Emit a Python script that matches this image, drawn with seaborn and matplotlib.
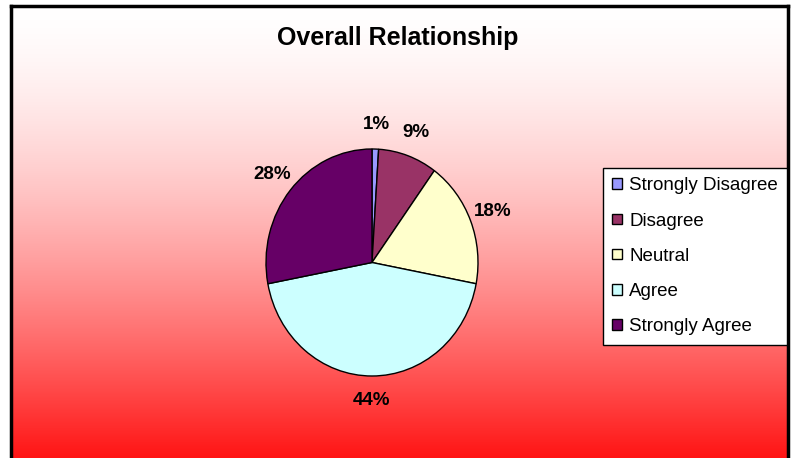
import numpy as np
import matplotlib.pyplot as plt
import seaborn as sns

# Chart data
categories = ["Strongly Disagree", "Disagree", "Neutral", "Agree", "Strongly Agree"]
shares = [1, 9, 18, 44, 28]
colors = ["#9999FF", "#993366", "#FFFFCC", "#CCFFFF", "#660066"]
title = "Overall Relationship"

sns.set_style("white")
plt.rcParams['font.family'] = ['Liberation Sans', 'DejaVu Sans']
plt.rcParams['text.color'] = 'black'

W, H = 794, 458
fig = plt.figure(figsize=(W / 100, H / 100), dpi=100)
fig.patch.set_facecolor("white")


def box(x0, y0, x1, y1):
    # pixel box (top-left origin) -> figure fraction rect
    return [x0 / W, 1 - y1 / H, (x1 - x0) / W, (y1 - y0) / H]


# white -> red gradient background with a black border
bg = fig.add_axes(box(11, 6, 788, 458))
t = np.linspace(0, 1, 256) ** 1.55
shade = 1 - 0.92 * t
grad = np.stack([np.ones_like(t), shade, shade], axis=1)[:, None, :]
bg.imshow(grad, aspect='auto', extent=[0, 1, 0, 1])
bg.set_xticks([])
bg.set_yticks([])
for side in ['left', 'top', 'right']:
    bg.spines[side].set_color('black')
    bg.spines[side].set_linewidth(2.5)
bg.spines['bottom'].set_visible(False)

fig.text(398 / W, 1 - 38 / H, title, ha='center', va='center',
         fontsize=18, fontweight='bold', color='black')

# pie
ax = fig.add_axes(box(266, 149, 478, 376))
wedges, texts, autotexts = ax.pie(
    shares, colors=colors, startangle=90, counterclock=False,
    wedgeprops=dict(edgecolor='black', linewidth=1),
    autopct=lambda p: f"{p:.0f}%", pctdistance=1.22,
    textprops=dict(fontsize=13.5, fontweight='bold', color='black'))
ax.set_aspect('auto')
ax.set_xlim(-1, 1)
ax.set_ylim(-1, 1)
for txt in autotexts:
    txt.set_clip_on(False)

leg = fig.legend(wedges, categories, loc='upper left',
                 bbox_to_anchor=(603 / W, 1 - 168 / H), borderaxespad=0,
                 fontsize=13.5, handlelength=0.5, handleheight=0.5,
                 handletextpad=0.4, labelspacing=0.97, borderpad=0.5,
                 frameon=True, fancybox=False, framealpha=1,
                 edgecolor='black', facecolor='white')
leg.get_frame().set_linewidth(1)
for txt in leg.get_texts():
    txt.set_color('black')

fig.savefig("out.png", dpi=100, facecolor="white")
